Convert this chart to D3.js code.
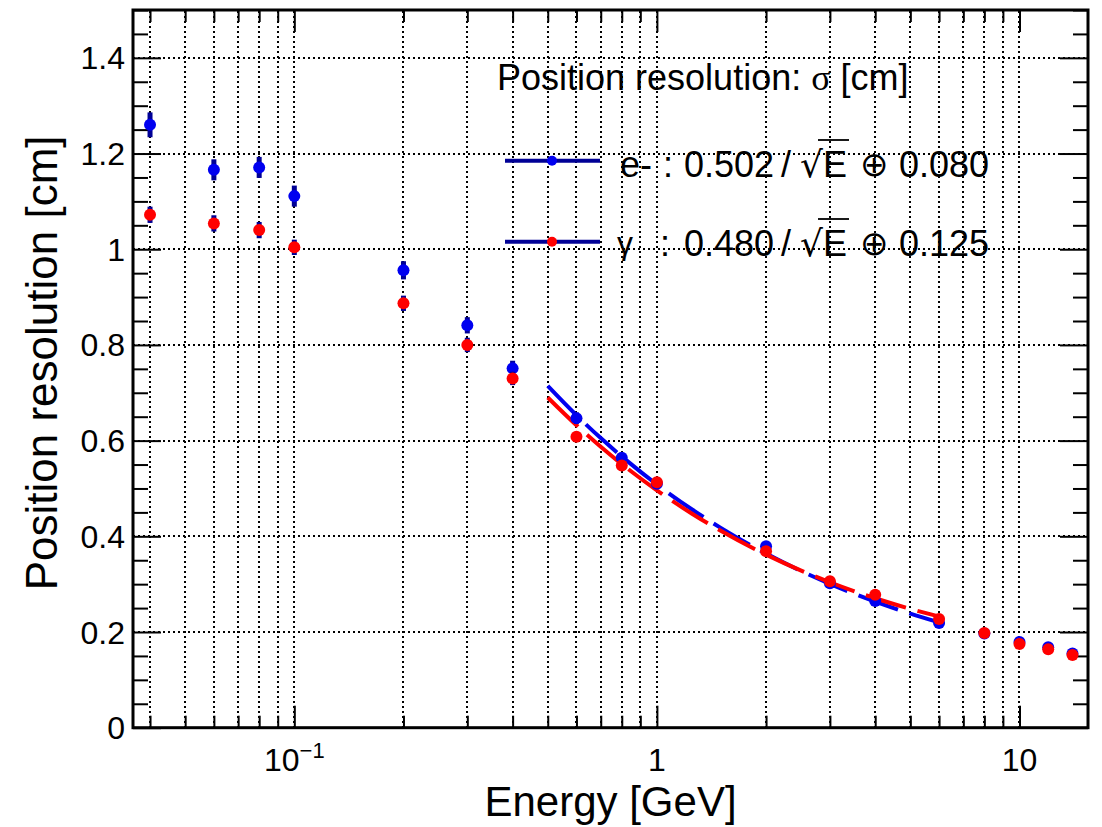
<!DOCTYPE html>
<html><head><meta charset="utf-8">
<script src="https://cdn.jsdelivr.net/npm/d3@7/dist/d3.min.js"></script>
<style>
body{margin:0;background:#fff}
text{font-family:"Liberation Sans",Arial,Helvetica,sans-serif;fill:#000}
</style>
</head><body>
<svg id="chart" width="1102" height="827"></svg>
<script>
// ---- data ----
const energies = [0.04,0.06,0.08,0.1,0.2,0.3,0.4,0.6,0.8,1,2,3,4,6,8,10,12,14];
const eRes = [1.260,1.166,1.171,1.111,0.956,0.841,0.751,0.647,0.564,0.510,0.379,0.302,0.265,0.219,0.197,0.179,0.168,0.155];
const eErr = [0.026,0.022,0.022,0.022,0.019,0.017,0.016,0.012,0.010,0.009,0.007,0.005,0.005,0.005,0.005,0.005,0.005,0.005];
const gRes = [1.072,1.054,1.040,1.004,0.887,0.800,0.730,0.608,0.548,0.513,0.369,0.306,0.278,0.227,0.198,0.175,0.164,0.152];
const gErr = [0.017,0.017,0.017,0.016,0.016,0.015,0.014,0.010,0.008,0.007,0.005,0.005,0.005,0.005,0.005,0.005,0.005,0.005];
const fitE = [0.5,0.6,0.7,0.8,1,1.25,1.5,2,2.5,3,4,5,6];
const eFit = [0.7144,0.6530,0.6053,0.5669,0.5083,0.4561,0.4176,0.3639,0.3274,0.3007,0.2634,0.2383,0.2200];
const gFit = [0.6902,0.6322,0.5872,0.5510,0.4960,0.4472,0.4114,0.3617,0.3283,0.3040,0.2706,0.2484,0.2324];
const xMajorTicks = [0.1,1,10];
const xMinorTicks = [0.04,0.05,0.06,0.07,0.08,0.09,0.2,0.3,0.4,0.5,0.6,0.7,0.8,0.9,2,3,4,5,6,7,8,9];
const xTickLabels = [["10","\u22121"],["1",null],["10",null]];
const yMajorTicks = [0,0.2,0.4,0.6,0.8,1.0,1.2,1.4];
const yMinorTicks = [0.05,0.1,0.15,0.25,0.3,0.35,0.45,0.5,0.55,0.65,0.7,0.75,0.85,0.9,0.95,1.05,1.1,1.15,1.25,1.3,1.35,1.45,1.5];
const yTickLabels = ["0","0.2","0.4","0.6","0.8","1","1.2","1.4"];
const xTitle = "Energy [GeV]";
const yTitle = "Position resolution [cm]";
const legendTitle = ["Position resolution: ", "\u03c3", " [cm]"];
const legendSym = ["e-", "\u03b3"];
const legendA = ["0.502", "0.480"];
const legendB = ["0.080", "0.125"];

// ---- layout ----
const X0 = 133, X1 = 1088, Y0 = 727.7, Y1 = 10;
const x = d3.scaleLog().domain([0.0359, 15.45]).range([X0, X1]);
const y = d3.scaleLinear().domain([0, 1.5]).range([Y0, Y1]);
const svg = d3.select("#chart");
const navy = "#000096", blue = "#0000f0", red = "#ff0000";

// grid
const grid = svg.append("g").attr("stroke", "#000").attr("stroke-width", 2)
  .attr("stroke-dasharray", "2 3").attr("shape-rendering", "crispEdges");
grid.selectAll("line.v").data(xMajorTicks.concat(xMinorTicks)).join("line").attr("class","v")
  .attr("x1", d => Math.round(x(d))).attr("x2", d => Math.round(x(d))).attr("y1", Y0).attr("y2", Y1);
grid.selectAll("line.h").data(yMajorTicks.filter(d => d > 0)).join("line").attr("class","h")
  .attr("x1", X0).attr("x2", X1).attr("y1", d => Math.round(y(d))).attr("y2", d => Math.round(y(d)));

// axes ticks
function ticks(axis, transform) {
  const g = svg.append("g").attr("transform", transform).call(axis);
  g.select(".domain").remove();
  g.selectAll("line").attr("stroke", "#000").attr("stroke-width", 2);
  g.selectAll("text").remove();
}
ticks(d3.axisBottom(x).tickValues(xMajorTicks).tickSize(-22).tickFormat(""), `translate(0,${Y0})`);
ticks(d3.axisBottom(x).tickValues(xMinorTicks).tickSize(-12).tickFormat(""), `translate(0,${Y0})`);
ticks(d3.axisTop(x).tickValues(xMajorTicks).tickSize(-22).tickFormat(""), `translate(0,${Y1})`);
ticks(d3.axisTop(x).tickValues(xMinorTicks).tickSize(-12).tickFormat(""), `translate(0,${Y1})`);
ticks(d3.axisLeft(y).tickValues(yMajorTicks).tickSize(-28).tickFormat(""), `translate(${X0},0)`);
ticks(d3.axisLeft(y).tickValues(yMinorTicks).tickSize(-15).tickFormat(""), `translate(${X0},0)`);
ticks(d3.axisRight(y).tickValues(yMajorTicks).tickSize(-28).tickFormat(""), `translate(${X1},0)`);
ticks(d3.axisRight(y).tickValues(yMinorTicks).tickSize(-15).tickFormat(""), `translate(${X1},0)`);

// tick labels
svg.append("g").selectAll("text").data(yMajorTicks).join("text")
  .attr("x", X0 - 8).attr("y", d => y(d)).attr("dy", "0.36em")
  .attr("text-anchor", "end").attr("font-size", 32).text((d, i) => yTickLabels[i]);
const xl = svg.append("g").selectAll("text").data(xMajorTicks).join("text")
  .attr("x", d => x(d)).attr("y", 771).attr("text-anchor", "middle").attr("font-size", 32);
xl.append("tspan").text((d, i) => xTickLabels[i][0]);
xl.filter((d, i) => xTickLabels[i][1]).append("tspan").attr("dy", -13).attr("font-size", 22)
  .text(d => xTickLabels[xMajorTicks.indexOf(d)][1]);

// axis titles
svg.append("text").attr("x", (X0 + X1) / 2).attr("y", 816).attr("text-anchor", "middle")
  .attr("font-size", 42).text(xTitle);
svg.append("text").attr("transform", `translate(57,${(Y0 + Y1) / 2 - 6}) rotate(-90)`)
  .attr("text-anchor", "middle").attr("font-size", 44).text(yTitle);

// fit curves
const line = d3.line().x(d => x(d[0])).y(d => y(d[1])).curve(d3.curveMonotoneX);
svg.append("path").datum(fitE.map((e, i) => [e, eFit[i]])).attr("d", line)
  .attr("fill", "none").attr("stroke", blue).attr("stroke-width", 4).attr("stroke-dasharray", "42 12");
svg.append("path").datum(fitE.map((e, i) => [e, gFit[i]])).attr("d", line)
  .attr("fill", "none").attr("stroke", red).attr("stroke-width", 4).attr("stroke-dasharray", "42 12");

// data points
function series(vals, errs, color) {
  const g = svg.append("g");
  g.selectAll("line").data(energies).join("line")
    .attr("x1", d => x(d)).attr("x2", d => x(d))
    .attr("y1", (d, i) => y(vals[i] - errs[i])).attr("y2", (d, i) => y(vals[i] + errs[i]))
    .attr("stroke", navy).attr("stroke-width", 5);
  g.selectAll("circle").data(energies).join("circle")
    .attr("cx", d => x(d)).attr("cy", (d, i) => y(vals[i])).attr("r", 6).attr("fill", color);
}
series(eRes, eErr, blue);
series(gRes, gErr, red);

// frame
svg.append("rect").attr("x", X0).attr("y", Y1).attr("width", X1 - X0).attr("height", Y0 - Y1)
  .attr("fill", "none").attr("stroke", "#000").attr("stroke-width", 3);

// legend
const lg = svg.append("g");
const t = lg.append("text").attr("x", 497).attr("y", 90).attr("font-size", 36);
t.append("tspan").text(legendTitle[0]);
t.append("tspan").attr("font-family", "'Liberation Serif',serif").text(legendTitle[1]);
t.append("tspan").text(legendTitle[2]);
const rowsY = [177, 256];
const markY = [160.7, 241.7];
[blue, red].forEach((c, i) => {
  const by = rowsY[i];
  lg.append("line").attr("x1", 505).attr("x2", 600).attr("y1", markY[i]).attr("y2", markY[i])
    .attr("stroke", navy).attr("stroke-width", 4);
  lg.append("circle").attr("cx", 552).attr("cy", markY[i]).attr("r", 5).attr("fill", c);
  if (i === 0) lg.append("text").attr("x", 620).attr("y", by).attr("font-size", 36).text(legendSym[0]);
  else lg.append("text").attr("x", 617).attr("y", by - 2).attr("font-size", 32)
    .attr("font-family", "'DejaVu Serif',serif").text(legendSym[1]);
  lg.append("text").attr("x", i === 0 ? 663 : 660).attr("y", by).attr("font-size", 36).text(":");
  lg.append("text").attr("x", 684).attr("y", by).attr("font-size", 36).text(legendA[i]);
  lg.append("text").attr("x", 781).attr("y", by).attr("font-size", 36).text("/");
  const sq = lg.append("text").attr("x", 800).attr("y", by).attr("font-size", 36);
  sq.append("tspan").attr("font-family", "'DejaVu Sans',sans-serif").text("\u221a");
  sq.append("tspan").text("E");
  lg.append("line").attr("x1", 818).attr("x2", 849).attr("y1", by - 37).attr("y2", by - 37)
    .attr("stroke", "#000").attr("stroke-width", 1.8);
  lg.append("text").attr("x", 860).attr("y", by - 1).attr("font-size", 34).attr("font-family", "'DejaVu Sans',sans-serif").text("\u2295");
  lg.append("text").attr("x", 899).attr("y", by).attr("font-size", 36).text(legendB[i]);
});
</script>
</body></html>
